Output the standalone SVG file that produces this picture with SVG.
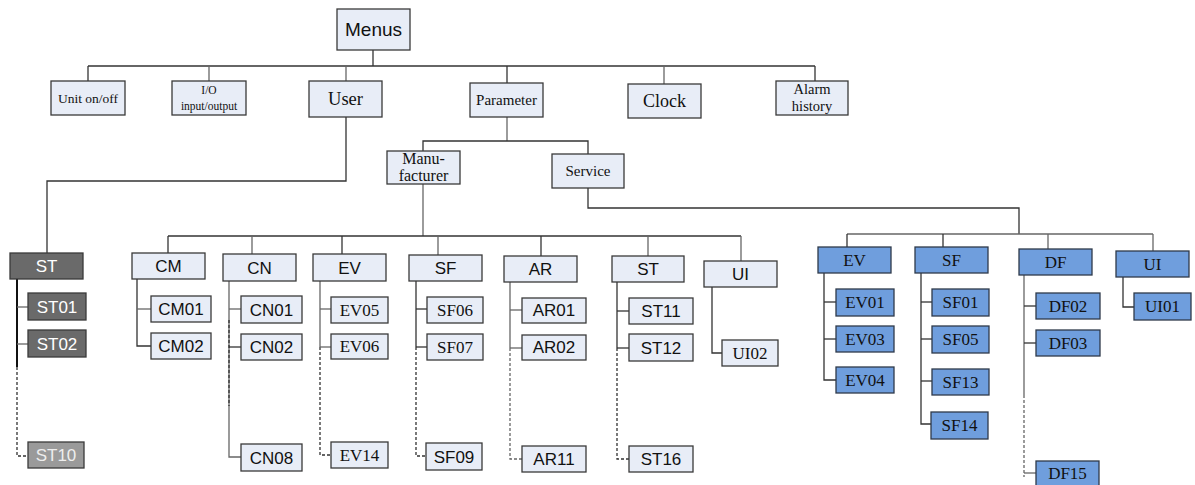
<svg xmlns="http://www.w3.org/2000/svg" width="1195" height="485" viewBox="0 0 1195 485">
<style>
.b{fill:#e8edf7;stroke:#3a3a3a;stroke-width:1.3}
.d{fill:#6a6a6a;stroke:#3a3a3a;stroke-width:1.3}
.g{fill:#9a9a9a;stroke:#3a3a3a;stroke-width:1.3}
.u{fill:#6f9edd;stroke:#2e3a4a;stroke-width:1.3}
text{text-anchor:middle;fill:#111}
.s{font-family:"Liberation Sans",Arial,sans-serif;font-size:17px}
.r{font-family:"Liberation Serif","Times New Roman",serif;font-size:17px}
.w{fill:#ffffff}
.lw{fill:#eeeeee}
.c line,.c polyline{fill:none;stroke:#333;stroke-width:1.3}
.c .gr{stroke:#666}
.c .ds{stroke-dasharray:3,2}
.c .bk{stroke:#111;stroke-width:2}
</style>
<g class="c" id="connectors">
<line x1="373" y1="50" x2="373" y2="66"/>
<line x1="88" y1="66" x2="815" y2="66"/>
<line x1="88" y1="66" x2="88" y2="81"/>
<line x1="209" y1="66" x2="209" y2="81" class="gr"/>
<line x1="346" y1="66" x2="346" y2="81" class="gr"/>
<line x1="507" y1="66" x2="507" y2="83"/>
<line x1="664" y1="66" x2="664" y2="84" class="gr"/>
<line x1="815" y1="66" x2="815" y2="81"/>
<polyline points="346,117 346,181 47,181 47,253"/>
<line x1="507" y1="117" x2="507" y2="141" class="gr"/>
<polyline points="423,151 423,141 588,141 588,154"/>
<line x1="423" y1="184" x2="423" y2="236" class="gr"/>
<line x1="168" y1="236" x2="741" y2="236"/>
<line x1="168" y1="236" x2="168" y2="253"/>
<line x1="252" y1="236" x2="252" y2="254" class="gr"/>
<line x1="342" y1="236" x2="342" y2="254"/>
<line x1="438" y1="236" x2="438" y2="255" class="gr"/>
<line x1="541" y1="236" x2="541" y2="256"/>
<line x1="648" y1="236" x2="648" y2="256" class="gr"/>
<line x1="741" y1="236" x2="741" y2="261" class="gr"/>
<polyline points="588,188 588,208 1019,208 1019,234"/>
<line x1="847" y1="234" x2="1153" y2="234" class="gr"/>
<line x1="847" y1="234" x2="847" y2="247"/>
<line x1="943" y1="234" x2="943" y2="247"/>
<line x1="1048" y1="234" x2="1048" y2="249" class="gr"/>
<line x1="1153" y1="234" x2="1153" y2="251" class="gr"/>
<!-- ST gray -->
<line x1="17" y1="279" x2="17" y2="367" class="bk"/>
<polyline points="17,367 17,456 28,456" class="ds"/>
<line x1="17" y1="307" x2="28" y2="307" class="gr"/>
<line x1="17" y1="344" x2="28" y2="344" class="gr"/>
<!-- CM -->
<polyline points="137,279 137,346 151,346"/>
<line x1="137" y1="309" x2="151" y2="309" class="gr"/>
<!-- CN -->
<polyline points="229,281 229,457 241,457" class="gr"/>
<line x1="229" y1="320" x2="229" y2="406" class="ds"/>
<line x1="229" y1="309" x2="241" y2="309" class="gr"/>
<line x1="229" y1="347" x2="241" y2="347"/>
<!-- EV -->
<line x1="320" y1="281" x2="320" y2="347" class="gr"/>
<polyline points="320,347 320,455 331,455" class="ds"/>
<line x1="320" y1="309" x2="331" y2="309" class="gr"/>
<line x1="320" y1="347" x2="331" y2="347" class="gr"/>
<!-- SF -->
<line x1="416" y1="281" x2="416" y2="347"/>
<polyline points="416,347 416,456 427,456" class="ds"/>
<line x1="416" y1="309" x2="427" y2="309"/>
<line x1="416" y1="347" x2="427" y2="347"/>
<!-- AR -->
<line x1="510" y1="282" x2="510" y2="348" class="gr"/>
<polyline points="510,348 510,459 522,459" class="ds gr"/>
<line x1="510" y1="310" x2="522" y2="310" class="gr"/>
<line x1="510" y1="348" x2="522" y2="348" class="gr"/>
<!-- ST light -->
<line x1="617" y1="282" x2="617" y2="348"/>
<polyline points="617,348 617,459 629,459" class="ds"/>
<line x1="617" y1="311" x2="629" y2="311"/>
<line x1="617" y1="348" x2="629" y2="348"/>
<!-- UI light -->
<polyline points="712,287 712,353 722,353"/>
<!-- EV blue -->
<polyline points="824,273 824,380 836,380"/>
<line x1="824" y1="302" x2="836" y2="302"/>
<line x1="824" y1="339" x2="836" y2="339"/>
<!-- SF blue -->
<polyline points="921,273 921,424 931,424"/>
<line x1="921" y1="302" x2="932" y2="302"/>
<line x1="921" y1="339" x2="932" y2="339"/>
<line x1="921" y1="381" x2="932" y2="381"/>
<!-- DF blue -->
<line x1="1024" y1="275" x2="1024" y2="395" class="gr"/>
<polyline points="1024,395 1024,477" class="ds gr"/>
<line x1="1024" y1="306" x2="1036" y2="306"/>
<line x1="1024" y1="343" x2="1036" y2="343"/>
<line x1="1024" y1="473" x2="1036" y2="473" class="gr"/>
<!-- UI blue -->
<polyline points="1123,277 1123,307 1134,307"/>
</g>
<g id="menus"><rect class="b" x="337" y="9" width="73" height="41"/><text class="s" x="373.5" y="36" style="font-size:19px">Menus</text></g>
<g id="unit"><rect class="b" x="51" y="81" width="74" height="34"/><text class="r" x="88" y="103" style="font-size:13.5px">Unit on/off</text></g>
<g id="io"><rect class="b" x="172" y="81" width="74" height="34"/><text class="r" x="209" y="94" style="font-size:11.5px">I/O</text><text class="r" x="209" y="110" style="font-size:11.5px">input/output</text></g>
<g id="user"><rect class="b" x="309" y="81" width="73" height="36"/><text class="r" x="345.5" y="105" style="font-size:18.5px">User</text></g>
<g id="parameter"><rect class="b" x="470" y="83" width="73" height="34"/><text class="r" x="506.5" y="105" style="font-size:15px">Parameter</text></g>
<g id="clock"><rect class="b" x="628" y="84" width="73" height="34"/><text class="r" x="664.5" y="107" style="font-size:18px">Clock</text></g>
<g id="alarm"><rect class="b" x="776" y="81" width="72" height="34"/><text class="r" x="812" y="94" style="font-size:14.5px">Alarm</text><text class="r" x="812" y="111" style="font-size:14.5px">history</text></g>
<g id="manufacturer"><rect class="b" x="387" y="151" width="73" height="33"/><text class="r" x="423.5" y="164" style="font-size:16px">Manu-</text><text class="r" x="423.5" y="181" style="font-size:16px">facturer</text></g>
<g id="service"><rect class="b" x="552" y="154" width="72" height="34"/><text class="r" x="588" y="176" style="font-size:15px">Service</text></g>

<g id="st-user"><rect class="d" x="10" y="253" width="73" height="26"/><text class="s w" x="46.5" y="272">ST</text></g>
<g id="st01"><rect class="d" x="28" y="293" width="58" height="27"/><text class="s w" x="57" y="313">ST01</text></g>
<g id="st02"><rect class="d" x="28" y="330" width="58" height="27"/><text class="s w" x="57" y="350">ST02</text></g>
<g id="st10"><rect class="g" x="28" y="442" width="56" height="26"/><text class="s lw" x="56" y="461">ST10</text></g>

<g id="cm"><rect class="b" x="132" y="253" width="73" height="26"/><text class="s" x="168.5" y="272">CM</text></g>
<g id="cm01"><rect class="b" x="151" y="296" width="60" height="26"/><text class="s" x="181" y="315">CM01</text></g>
<g id="cm02"><rect class="b" x="151" y="333" width="60" height="26"/><text class="s" x="181" y="352">CM02</text></g>

<g id="cn"><rect class="b" x="223" y="254" width="73" height="27"/><text class="s" x="259.5" y="274">CN</text></g>
<g id="cn01"><rect class="b" x="241" y="296" width="61" height="27"/><text class="s" x="271.5" y="316">CN01</text></g>
<g id="cn02"><rect class="b" x="241" y="334" width="61" height="26"/><text class="s" x="271.5" y="353">CN02</text></g>
<g id="cn08"><rect class="b" x="241" y="444" width="61" height="27"/><text class="s" x="271.5" y="464">CN08</text></g>

<g id="ev-m"><rect class="b" x="313" y="254" width="73" height="27"/><text class="s" x="349.5" y="274">EV</text></g>
<g id="ev05"><rect class="b" x="331" y="297" width="57" height="26"/><text class="r" x="359.5" y="316">EV05</text></g>
<g id="ev06"><rect class="b" x="331" y="334" width="57" height="25"/><text class="r" x="359.5" y="352">EV06</text></g>
<g id="ev14"><rect class="b" x="331" y="442" width="57" height="26"/><text class="r" x="359.5" y="461">EV14</text></g>

<g id="sf-m"><rect class="b" x="409" y="255" width="73" height="26"/><text class="s" x="445.5" y="274">SF</text></g>
<g id="sf06"><rect class="b" x="427" y="297" width="56" height="26"/><text class="r" x="455" y="316">SF06</text></g>
<g id="sf07"><rect class="b" x="427" y="334" width="56" height="26"/><text class="r" x="455" y="353">SF07</text></g>
<g id="sf09"><rect class="b" x="426" y="443" width="56" height="27"/><text class="s" x="454" y="463">SF09</text></g>

<g id="ar"><rect class="b" x="504" y="256" width="73" height="26"/><text class="s" x="540.5" y="275">AR</text></g>
<g id="ar01"><rect class="b" x="522" y="298" width="64" height="25"/><text class="s" x="554" y="316">AR01</text></g>
<g id="ar02"><rect class="b" x="522" y="335" width="64" height="25"/><text class="s" x="554" y="353">AR02</text></g>
<g id="ar11"><rect class="b" x="522" y="446" width="64" height="26"/><text class="s" x="554" y="465">AR11</text></g>

<g id="st-m"><rect class="b" x="612" y="256" width="72" height="26"/><text class="s" x="648" y="275">ST</text></g>
<g id="st11"><rect class="b" x="629" y="298" width="64" height="26"/><text class="s" x="661" y="317">ST11</text></g>
<g id="st12"><rect class="b" x="629" y="334" width="64" height="27"/><text class="s" x="661" y="354">ST12</text></g>
<g id="st16"><rect class="b" x="629" y="446" width="64" height="26"/><text class="s" x="661" y="465">ST16</text></g>

<g id="ui-m"><rect class="b" x="704" y="261" width="73" height="26"/><text class="s" x="740.5" y="280">UI</text></g>
<g id="ui02"><rect class="b" x="722" y="340" width="56" height="26"/><text class="r" x="750" y="359">UI02</text></g>

<g id="ev-s"><rect class="u" x="818" y="247" width="73" height="26"/><text class="r" x="854.5" y="266">EV</text></g>
<g id="ev01"><rect class="u" x="836" y="289" width="58" height="27"/><text class="r" x="865" y="308">EV01</text></g>
<g id="ev03"><rect class="u" x="836" y="326" width="58" height="26"/><text class="r" x="865" y="345">EV03</text></g>
<g id="ev04"><rect class="u" x="836" y="367" width="58" height="26"/><text class="r" x="865" y="386">EV04</text></g>

<g id="sf-s"><rect class="u" x="915" y="247" width="73" height="26"/><text class="r" x="951.5" y="266">SF</text></g>
<g id="sf01"><rect class="u" x="932" y="289" width="57" height="27"/><text class="r" x="960.5" y="308">SF01</text></g>
<g id="sf05"><rect class="u" x="932" y="326" width="57" height="27"/><text class="r" x="960.5" y="345">SF05</text></g>
<g id="sf13"><rect class="u" x="932" y="369" width="57" height="26"/><text class="r" x="960.5" y="388">SF13</text></g>
<g id="sf14"><rect class="u" x="931" y="412" width="57" height="27"/><text class="r" x="959.5" y="431">SF14</text></g>

<g id="df"><rect class="u" x="1019" y="249" width="73" height="26"/><text class="r" x="1055.5" y="268">DF</text></g>
<g id="df02"><rect class="u" x="1036" y="293" width="64" height="26"/><text class="r" x="1068" y="312">DF02</text></g>
<g id="df03"><rect class="u" x="1036" y="330" width="64" height="26"/><text class="r" x="1068" y="349">DF03</text></g>
<g id="df15"><rect class="u" x="1036" y="461" width="63" height="26"/><text class="r" x="1067.5" y="479">DF15</text></g>

<g id="ui-s"><rect class="u" x="1116" y="251" width="73" height="26"/><text class="r" x="1152.5" y="270">UI</text></g>
<g id="ui01"><rect class="u" x="1134" y="293" width="57" height="27"/><text class="r" x="1162.5" y="312">UI01</text></g>
</svg>
